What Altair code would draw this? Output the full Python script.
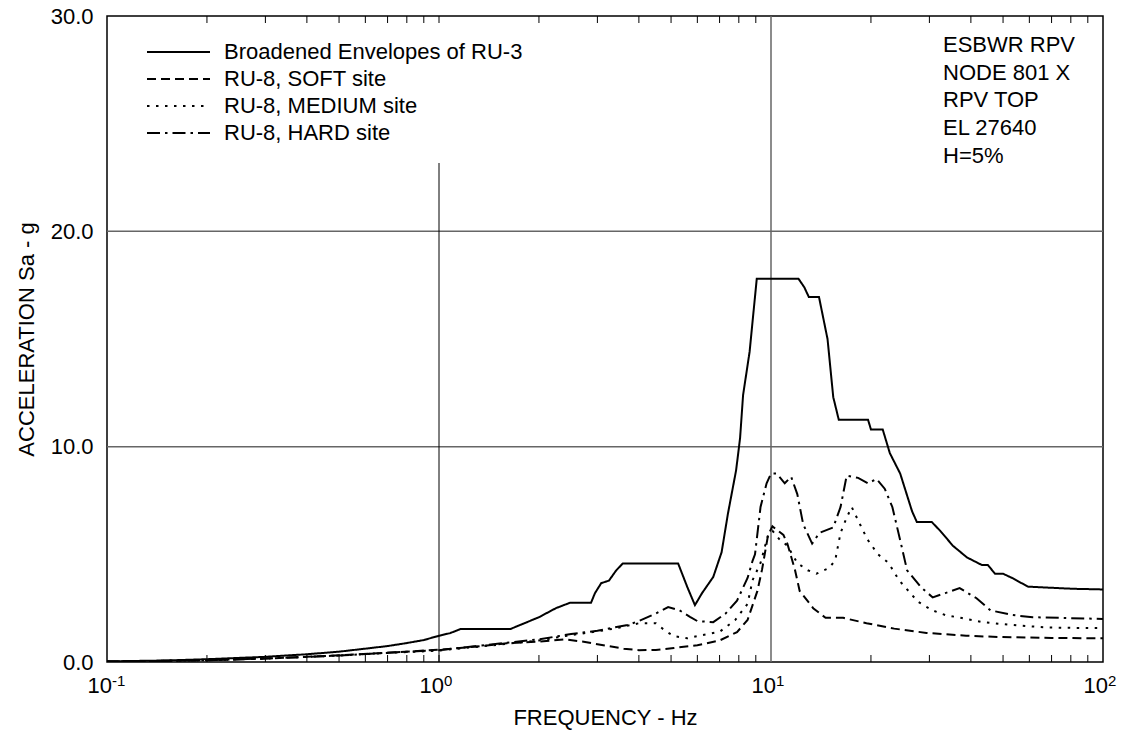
import altair as alt
import pandas as pd

FONT = "Liberation Sans"

# ---- data ----
series_names = ["Broadened Envelopes of RU-3", "RU-8, SOFT site", "RU-8, MEDIUM site", "RU-8, HARD site"]

env_f = [0.1, 0.15, 0.2, 0.3, 0.4, 0.5, 0.6, 0.7, 0.8, 0.9, 1.0, 1.08, 1.16, 1.64, 2.0, 2.25, 2.48, 2.87,
         2.95, 3.08, 3.25, 3.42, 3.58, 5.25, 5.6, 5.9, 6.2, 6.7, 7.1, 7.42, 7.85, 8.07, 8.24, 8.62, 9.06,
         12.1, 12.6, 13.0, 13.95, 14.8, 15.4, 16.0, 19.6, 20.0, 21.7, 22.8, 24.5, 26.6, 27.5, 30.5, 32.3,
         35.3, 38.9, 43.2, 45.0, 47.3, 50.0, 53.6, 59.4, 69.2, 81.3, 100.0]
env_a = [0.03, 0.07, 0.13, 0.24, 0.36, 0.48, 0.62, 0.74, 0.88, 1.02, 1.22, 1.34, 1.53, 1.53, 2.08, 2.5, 2.75, 2.75,
         3.2, 3.66, 3.78, 4.26, 4.58, 4.58, 3.47, 2.64, 3.2, 3.95, 5.1, 6.9, 8.9, 10.4, 12.4, 14.4, 17.8,
         17.8, 17.4, 16.95, 16.95, 15.0, 12.3, 11.25, 11.25, 10.8, 10.8, 9.7, 8.75, 7.0, 6.5, 6.5, 6.1,
         5.4, 4.86, 4.5, 4.5, 4.1, 4.1, 3.88, 3.5, 3.45, 3.4, 3.37]

soft_f = [0.1, 0.2, 0.3, 0.4, 0.5, 0.7, 0.9, 1.0, 1.3, 1.6, 2.0, 2.4, 2.7, 3.2, 3.6, 4.0, 4.5, 5.1, 6.0, 7.0,
          7.9, 8.5, 9.1, 9.4, 9.8, 10.1, 10.9, 11.2, 11.8, 12.2, 13.4, 14.6, 16.5, 19.4, 23.5, 29.4, 38.7,
          49.0, 70.0, 100.0]
soft_a = [0.02, 0.08, 0.16, 0.24, 0.31, 0.43, 0.53, 0.57, 0.72, 0.87, 0.95, 1.05, 0.95, 0.75, 0.62, 0.55, 0.56,
          0.65, 0.78, 1.0, 1.39, 1.95, 3.3, 4.3, 5.9, 6.3, 5.9, 5.5, 4.3, 3.3, 2.5, 2.05, 2.05, 1.8, 1.55,
          1.35, 1.22, 1.16, 1.12, 1.1]

med_f = [0.1, 0.2, 0.3, 0.5, 0.7, 1.0, 1.5, 2.0, 2.5, 3.0, 3.5, 4.0, 4.5, 4.8, 5.1, 5.6, 6.2, 7.0, 7.8, 8.5,
         8.8, 9.3, 9.8, 10.1, 10.6, 11.2, 12.0, 12.9, 13.7, 14.9, 15.6, 16.2, 16.9, 17.5, 18.6, 19.5, 21.0,
         22.6, 24.3, 27.7, 30.6, 33.5, 37.6, 43.5, 55.0, 69.0, 100.0]
med_a = [0.02, 0.08, 0.16, 0.3, 0.42, 0.53, 0.8, 1.0, 1.25, 1.42, 1.6, 1.8, 1.8, 1.45, 1.2, 1.1, 1.25, 1.4, 1.95,
         2.7, 3.8, 4.6, 5.9, 6.1, 5.7, 5.4, 4.6, 4.26, 4.1, 4.35, 4.7, 6.0, 6.7, 7.2, 6.35, 5.7, 5.0, 4.6,
         3.8, 2.8, 2.4, 2.18, 2.04, 1.85, 1.7, 1.6, 1.57]

hard_f = [0.1, 0.2, 0.3, 0.5, 0.7, 1.0, 1.5, 2.0, 2.5, 3.0, 3.35, 3.7, 4.0, 4.5, 4.9, 5.3, 5.7, 6.0, 6.7, 7.3,
          7.9, 8.5, 8.8, 8.95, 9.3, 9.7, 10.0, 10.4, 11.0, 11.5, 12.0, 12.5, 13.3, 14.0, 15.4, 16.2, 16.9,
          18.3, 19.6, 20.8, 22.0, 23.2, 24.5, 25.7, 28.3, 30.7, 33.5, 37.0, 41.6, 45.8, 53.4, 61.4, 77.9, 100.0]
hard_a = [0.02, 0.08, 0.16, 0.3, 0.43, 0.55, 0.85, 1.05, 1.3, 1.45, 1.6, 1.72, 1.9, 2.25, 2.55, 2.4, 2.1, 1.9,
          1.85, 2.25, 2.85, 3.9, 4.7, 5.0, 7.2, 8.3, 8.75, 8.75, 8.3, 8.6, 7.8, 6.4, 5.5, 6.0, 6.25, 7.2, 8.65,
          8.55, 8.3, 8.5, 8.05, 7.2, 5.65, 4.26, 3.47, 3.0, 3.2, 3.43, 2.96, 2.4, 2.18, 2.08, 2.04, 2.0]

y_ticks = [0, 10, 20, 30]
decades = [0.1, 1, 10, 100]
decade_exp = ["-1", "0", "1", "2"]
annotation_lines = ["ESBWR RPV", "NODE 801 X", "RPV TOP", "EL 27640", "H=5%"]

# ---- styling ----
W, H = 996, 646
dashes = [[1, 0], [9, 5], [2.5, 6.5], [13, 5, 2.5, 5]]
FS = 22

frames = []
for name, f, a in zip(series_names, [env_f, soft_f, med_f, hard_f], [env_a, soft_a, med_a, hard_a]):
    frames.append(pd.DataFrame({"freq": f, "acc": a, "series": name}))
curves = pd.concat(frames, ignore_index=True)

xscale = alt.Scale(type="log", domain=[0.1, 100], nice=False)
yscale = alt.Scale(domain=[0, 30], nice=False, zero=True)
xaxis = alt.Axis(labels=False, ticks=False, tickSize=0, domain=False, grid=False,
                 title="FREQUENCY - Hz", titleFont=FONT, titleFontSize=FS, titleFontWeight="normal",
                 titleColor="black", titleY=62, titleBaseline="alphabetic")
yaxis = alt.Axis(values=y_ticks, format=".1f", labelFont=FONT, labelFontSize=FS, labelColor="black",
                 labelPadding=14, ticks=False, tickSize=0, domain=False, grid=False,
                 title="ACCELERATION Sa - g", titleFont=FONT, titleFontSize=FS, titleFontWeight="normal",
                 titleColor="black", titleX=-74, titleY=H / 2, titleAngle=270, titleAlign="center",
                 titleBaseline="alphabetic")


def X(field):
    return alt.X(field, type="quantitative", scale=xscale, axis=xaxis)


def Y(field):
    return alt.Y(field, type="quantitative", scale=yscale, axis=yaxis)


grid_h = alt.Chart(pd.DataFrame({"v": [10, 20]})).mark_rule(color="#666666", strokeWidth=1.5).encode(y=Y("v"))
grid_v10 = alt.Chart(pd.DataFrame({"f": [10]})).mark_rule(color="#666666", strokeWidth=1.5).encode(x=X("f"))
grid_v1 = alt.Chart(pd.DataFrame({"f": [1]})).mark_rule(color="black", strokeWidth=1).encode(
    x=X("f"), y=alt.value(147), y2=alt.value(H))

minor = [m * 10.0 ** e for e in (-1, 0, 1) for m in range(2, 10)] + [1.0]
tick_df = pd.DataFrame({"f": minor})
ticks_bottom = alt.Chart(tick_df).mark_rule(color="black", strokeWidth=1).encode(
    x=X("f"), y=alt.value(H), y2=alt.value(H - 7))
ticks_top = alt.Chart(tick_df).mark_rule(color="black", strokeWidth=1).encode(
    x=X("f"), y=alt.value(0), y2=alt.value(7))

lines = alt.Chart(curves).mark_line(color="black", strokeWidth=2, clip=True).encode(
    x=X("freq"), y=Y("acc"),
    strokeDash=alt.StrokeDash("series:N", scale=alt.Scale(domain=series_names, range=dashes), legend=None),
    detail="series:N",
)

lab_df = pd.DataFrame({"f": decades, "e": decade_exp})
base_lab = alt.Chart(lab_df).mark_text(font=FONT, fontSize=FS, align="right", baseline="alphabetic",
                                       dx=5, color="black").encode(
    x=X("f"), y=alt.value(H + 31), text=alt.value("10"))
exp_lab = alt.Chart(lab_df).mark_text(font=FONT, fontSize=15, align="left", baseline="alphabetic",
                                      dx=5, color="black").encode(
    x=X("f"), y=alt.value(H + 24), text="e:N")

one = pd.DataFrame({"a": [0]})
legend_layers = []
row_h = 27
for i, name in enumerate(series_names):
    yrow = 36 + i * row_h
    legend_layers.append(
        alt.Chart(one).mark_rule(color="black", strokeWidth=2, strokeDash=dashes[i]).encode(
            x=alt.value(40), x2=alt.value(103), y=alt.value(yrow)))
    legend_layers.append(
        alt.Chart(one).mark_text(font=FONT, fontSize=FS, align="left", baseline="middle", color="black").encode(
            x=alt.value(117), y=alt.value(yrow), text=alt.value(name)))

annot = alt.Chart(one).mark_text(font=FONT, fontSize=FS, align="left", baseline="alphabetic",
                                 lineBreak="\n", lineHeight=27.7, color="black").encode(
    x=alt.value(836), y=alt.value(36), text=alt.value("\n".join(annotation_lines)))

chart = alt.layer(grid_h, grid_v10, grid_v1, ticks_bottom, ticks_top, lines, base_lab, exp_lab,
                  *legend_layers, annot).properties(
    width=W, height=H,
    autosize=alt.AutoSizeParams(type="none"),
    padding={"left": 99, "top": 8, "right": 14, "bottom": 70},
    background="white",
).configure_view(stroke="black", strokeWidth=1.5)

chart.save("out.html", embed_options={"renderer": "svg", "actions": False})
